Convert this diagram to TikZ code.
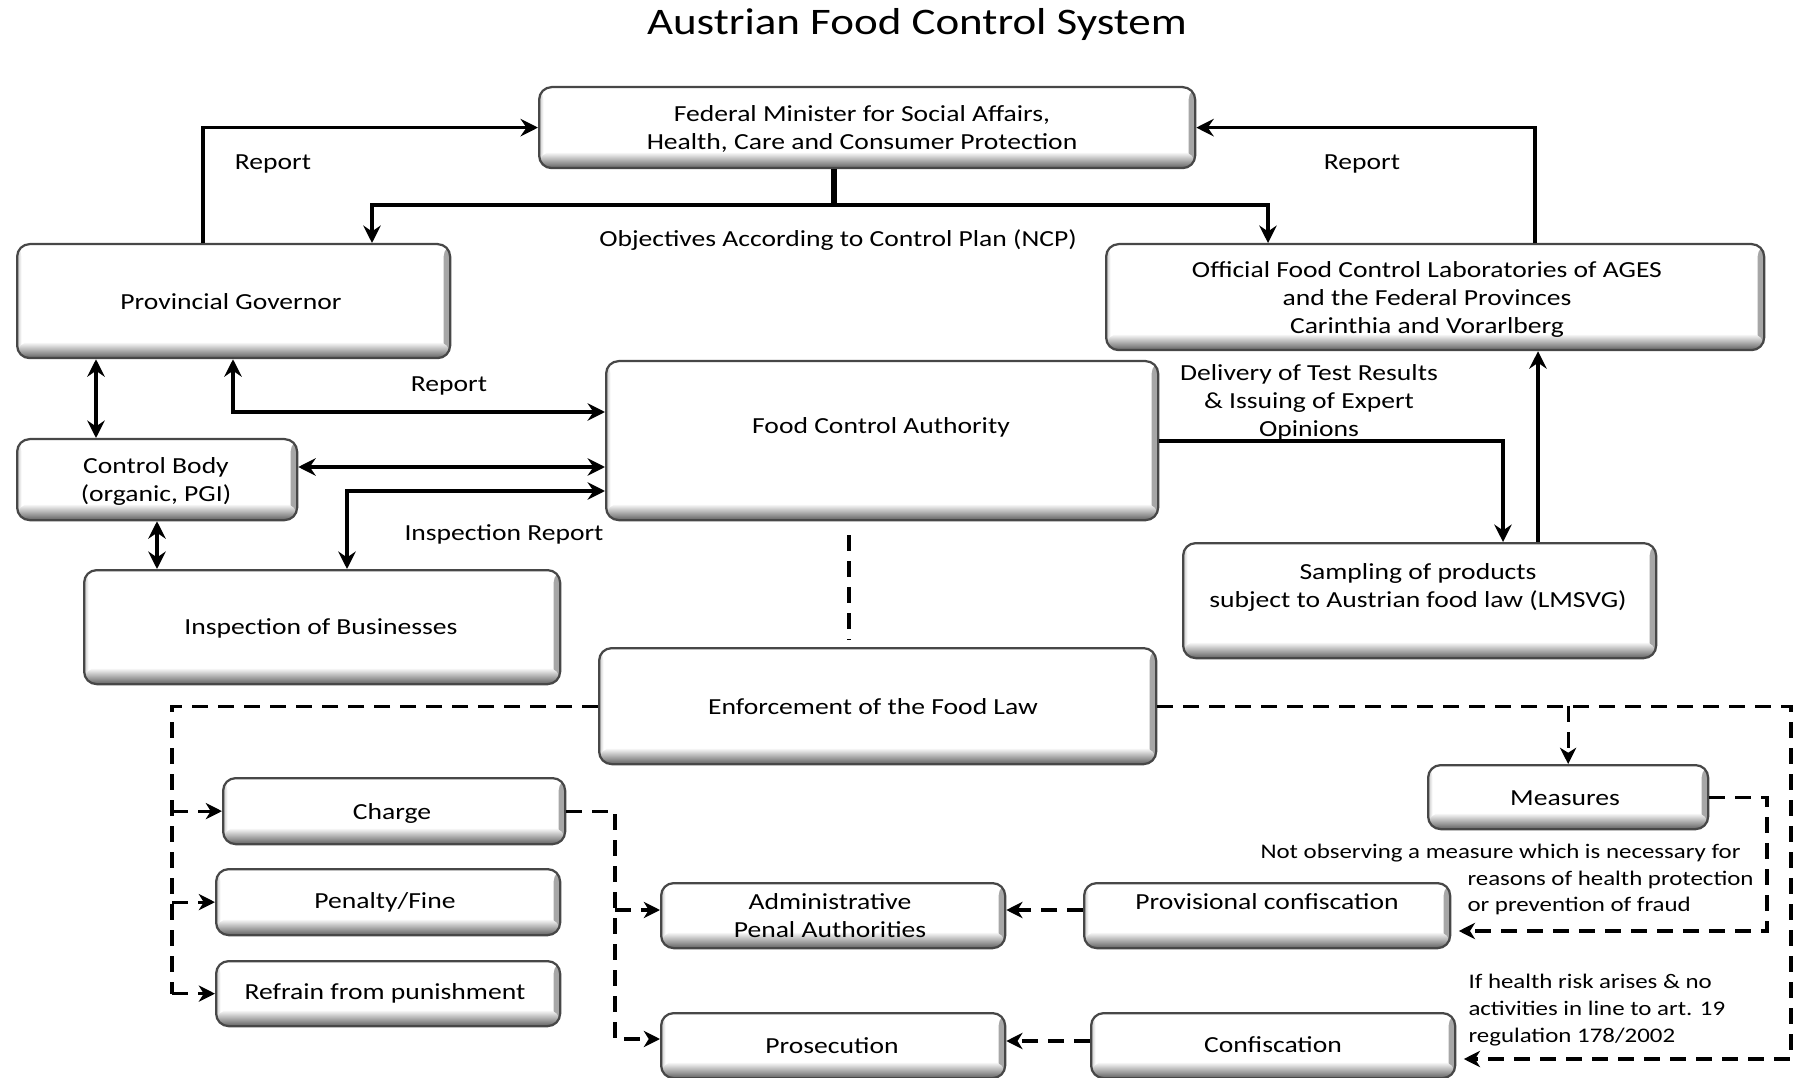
\documentclass[tikz,border=0pt]{standalone}
\usepackage{fontspec}
\setmainfont{Carlito}[FakeStretch=1.2]
\usetikzlibrary{arrows.meta}
\begin{document}
\begin{tikzpicture}[x=0.4pt,y=-0.4pt,
  box/.style={draw=black!72, line width=0.9pt, rounded corners=5pt, fill=white, inner sep=0pt,
    path picture={
      \shade[left color=white, right color=black!35] ([xshift=-2.6pt]path picture bounding box.north east) rectangle (path picture bounding box.south east);
      \shade[right color=white, left color=black!22] (path picture bounding box.north west) rectangle ([xshift=1.8pt]path picture bounding box.south west);
      \shade[top color=white, bottom color=black!62] ([yshift=6.5pt]path picture bounding box.south west) rectangle (path picture bounding box.south east);
    }},
  lbl/.style={inner sep=0pt, align=center, font=\fontsize{9.2}{11.2}\selectfont},
  note/.style={inner sep=0pt, align=left, anchor=west, font=\fontsize{8.3}{10.7}\selectfont},
  tip/.style={Stealth[length=7pt, width=7pt, inset=2.4pt]},
  arr/.style={line width=1.3pt, -{Stealth[length=7pt, width=7pt, inset=2.4pt]}},
  dblarr/.style={line width=1.3pt, {Stealth[length=7pt, width=7pt, inset=2.4pt]}-{Stealth[length=7pt, width=7pt, inset=2.4pt]}},
  dline/.style={line width=1.3pt, dash pattern=on 6.4pt off 4pt},
  darr/.style={dline, -{Stealth[length=6.5pt, width=6.5pt, inset=2pt]}}
]
\useasboundingbox (0,0) rectangle (1794,1078);
\newcommand\mkbox[5]{\node[box, anchor=north west, minimum width={(#4-#2)*0.4pt}, minimum height={(#5-#3)*0.4pt}] (#1) at (#2,#3) {};}

% title
\node[inner sep=0pt, font=\fontsize{15}{18}\selectfont] (title) at (917,25) {Austrian Food Control System};

% boxes
\mkbox{fm}{538}{86}{1194}{167}
\mkbox{pg}{16}{243}{449}{357}
\mkbox{labs}{1105}{243}{1763}{349}
\mkbox{fca}{605}{360}{1157}{519}
\mkbox{cb}{16}{438}{296}{519}
\mkbox{insp}{83}{569}{559}{683}
\mkbox{samp}{1182}{542}{1655}{657}
\mkbox{enf}{598}{647}{1155}{763}
\mkbox{meas}{1427}{764}{1707}{828}
\mkbox{charge}{222}{777}{564}{843}
\mkbox{pen}{215}{868}{559}{934}
\mkbox{ref}{215}{960}{559}{1025}
\mkbox{admin}{660}{882}{1004}{947}
\mkbox{pros}{660}{1012}{1004}{1077}
\mkbox{prov}{1083}{882}{1449}{947}
\mkbox{conf}{1090}{1012}{1454}{1077}

% box texts
\node[lbl] (fm-t) at (862,129) {Federal Minister for Social Affairs,\\Health, Care and Consumer Protection};
\node[lbl] (pg-t) at (231,302) {Provincial Governor};
\node[lbl] (labs-t) at (1427,299) {Official Food Control Laboratories of AGES\\and the Federal Provinces\\Carinthia and Vorarlberg};
\node[lbl] (fca-t) at (881,427) {Food Control Authority};
\node[lbl] (cb-t) at (156,481) {Control Body\\(organic, PGI)};
\node[lbl] (insp-t) at (321,628) {Inspection of Businesses};
\node[lbl] (samp-t) at (1418,587) {Sampling of products\\subject to Austrian food law (LMSVG)};
\node[lbl] (enf-t) at (873,707) {Enforcement of the Food Law};
\node[lbl] (meas-t) at (1565,798) {Measures};
\node[lbl] (charge-t) at (392,813) {Charge};
\node[lbl] (pen-t) at (385,902) {Penalty/Fine};
\node[lbl] (ref-t) at (385,993) {Refrain from punishment};
\node[lbl] (admin-t) at (830,916) {Administrative\\Penal Authorities};
\node[lbl] (pros-t) at (832,1046) {Prosecution};
\node[lbl] (prov-t) at (1267,902) {Provisional confiscation};
\node[lbl] (conf-t) at (1273,1045) {Confiscation};

% labels
\node[lbl] (l-rep1) at (273,164) {Report};
\node[lbl] (l-rep2) at (1362,164) {Report};
\node[lbl] (l-obj) at (838,240) {Objectives According to Control Plan (NCP)};
\node[lbl] (l-rep3) at (449,386) {Report};
\node[lbl] (l-insp) at (504,534) {Inspection Report};
\node[lbl] (l-del) at (1309,402) {Delivery of Test Results\\\& Issuing of Expert\\Opinions};
\node[note] (l-not1) at (1260,853) {Not observing a measure which is necessary for};
\node[note] (l-not2) at (1467,893) {reasons of health protection\\or prevention of fraud};
\node[note] (l-risk) at (1468,1010) {If health risk arises \& no\\activities in line to art. 19\\regulation 178/2002};

% coordinates
\coordinate (obj) at (834,205);
\coordinate (lv) at (172,0);
\coordinate (cv) at (615,1039);
\coordinate (cva) at (615,910);
\coordinate (rv) at (1791,1059);
\coordinate (mv) at (1767,931);

% solid connectors
\draw[arr] (pg.north -| 203,0) |- (fm.west);
\draw[arr] (labs.north -| 1535,0) |- (fm.east);
\draw[line width=2.6pt] (fm.south -| obj) -- (obj);
\draw[arr] (obj) -| (pg.north -| 372,0);
\draw[arr] (obj) -| (labs.north -| 1268,0);
\draw[dblarr] (pg.south -| 96,0) -- (cb.north -| 96,0);
\draw[dblarr] (pg.south -| 233,0) |- (fca.west |- 0,412);
\draw[dblarr] (cb.east |- 0,467) -- (fca.west |- 0,467);
\draw[dblarr] (fca.west |- 0,491) -| (insp.north -| 347,0);
\draw[dblarr] (cb.south -| 157,0) -- (insp.north -| 157,0);
\draw[arr] (fca.east |- 0,441) -| (samp.north -| 1503,0);
\draw[arr] (samp.north -| 1538,0) -- (labs.south -| 1538,0);

% dashed connectors
\draw[dline, shorten <=5.6pt, shorten >=2.8pt] (fca.south -| 849,0) -- (enf.north -| 849,0);
\draw[dline] (enf.west) -| (ref.west -| lv);
\draw[darr] (charge.west -| lv) -- (charge.west);
\draw[darr] (pen.west -| lv) -- (pen.west);
\draw[darr] (ref.west -| lv) -- (ref.west);
\draw[darr] (charge.east) -| (cv) -- (pros.west |- cv);
\draw[darr] (cva) -- (admin.west |- cva);
\draw[darr] (prov.west |- cva) -- (admin.east |- cva);
\draw[darr] (conf.west |- 0,1041) -- (pros.east |- 0,1041);
\draw[darr, shorten >=3pt] (enf.east) -| (rv) -- (conf.east |- rv);
\draw[darr] (enf.east -| meas.north) -- (meas.north);
\draw[darr, shorten >=3pt] (meas.east) -| (mv) -- (prov.east |- mv);
\end{tikzpicture}
\end{document}
